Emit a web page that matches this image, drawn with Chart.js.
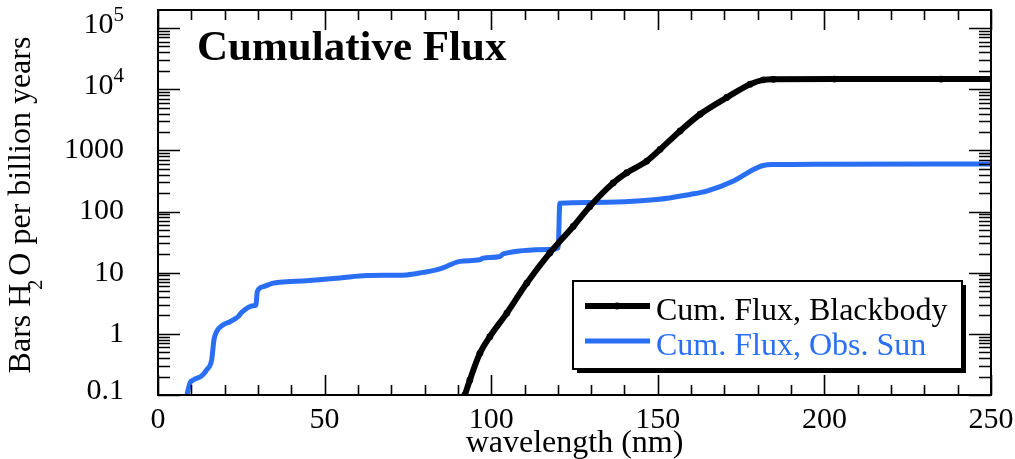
<!DOCTYPE html>
<html>
<head>
<meta charset="utf-8">
<title>Cumulative Flux</title>
<script src="https://cdn.jsdelivr.net/npm/chart.js@4.4.1/dist/chart.umd.min.js"></script>
<style>
  body { margin: 0; background: #fff; }
  canvas { display: block; }
</style>
</head>
<body>
<canvas id="fluxChart" width="1015" height="459"></canvas>
<script>
// blackbody cumulative flux (wavelength in nm, bars H2O per Gyr)
var bbWavelength = [91.5, 92.1, 93.6, 96.6, 99.6, 104.7, 110.7, 117.6, 124.6, 129.6, 136.6, 140.7,
    146.7, 150.7, 156.7, 162.7, 170.7, 177.7, 181.7, 184.7, 203, 235, 250];
var bbFlux = [0.08, 0.1, 0.176, 0.48, 0.9, 2.18, 6.76, 21, 57, 121, 293, 430,
    668, 1038, 2073, 3890, 7310, 12080, 14200, 14500, 14600, 14600, 14600];

// observed solar spectrum, cumulative
var sunWavelength = [8.7, 9.6, 10.6, 13.1, 14.6, 16.1, 16.8, 17.6, 19.5, 21.6, 24.1, 25.1, 28.6, 29.4,
    29.8, 31.6, 34.6, 36.6, 44.6, 54.6, 62.6, 74.6, 79.6, 84.6, 90.6, 96.6, 97.6, 102.6, 103.6,
    117.6, 120.1, 120.6, 129.6, 149.7, 159.7, 164.7, 172.7, 178.7, 181.7, 184.7, 200, 250];
var sunFlux = [0.1, 0.157, 0.176, 0.205, 0.257, 0.375, 0.8, 1.09, 1.4, 1.58, 1.92, 2.24, 2.87, 2.95,
    4.9, 5.9, 6.75, 7.0, 7.4, 8.2, 9.0, 9.2, 10.1, 11.5, 15.3, 16.3, 17.3, 18.4, 20.3,
    23.9, 25.4, 137, 140, 157, 190, 215, 314, 486, 566, 585, 595, 600];

var seriesLabels = ['Cum. Flux, Blackbody', 'Cum. Flux, Obs. Sun'];
var seriesColors = ['#000000', '#2a6ff3'];

var xTickValues = [0, 50, 100, 150, 200, 250];
var yTickValues = [0.1, 1, 10, 100, 1000, 1e4, 1e5];
var yTickLabels = ['0.1', '1', '10', '100', '1000', '10^4', '10^5'];

var chartTitle = 'Cumulative Flux';
var xTitle = 'wavelength (nm)';

function toPoints(xs, ys) {
    return xs.map(function (x, i) { return { x: x, y: ys[i] }; });
}

var SERIF = '"Liberation Serif", "Times New Roman", serif';

// boxed axes with inward ticks, labels, title and legend
var framePlugin = {
    id: 'frame',
    afterDraw: function (chart) {
        var ctx = chart.ctx;
        var a = chart.chartArea;
        var xs = chart.scales.x, ys = chart.scales.y;
        ctx.save();
        ctx.strokeStyle = '#000';
        ctx.fillStyle = '#000';

        // ticks on all four sides
        ctx.lineWidth = 1.6;
        ctx.beginPath();
        for (var v = xs.min; v <= xs.max; v += 10) {
            var px = Math.round(xs.getPixelForValue(v)) + 0.5;
            var len = (v % 50 === 0) ? 20 : 10;
            ctx.moveTo(px, a.bottom); ctx.lineTo(px, a.bottom - len);
            ctx.moveTo(px, a.top); ctx.lineTo(px, a.top + len);
        }
        for (var d = -1; d <= 5; d++) {
            for (var m = 1; m <= 9; m++) {
                var val = m * Math.pow(10, d);
                if (val > ys.max) break;
                var py = Math.round(ys.getPixelForValue(val)) + 0.5;
                var l2 = (m === 1) ? 22 : 12;
                ctx.moveTo(a.left, py); ctx.lineTo(a.left + l2, py);
                ctx.moveTo(a.right, py); ctx.lineTo(a.right - l2, py);
            }
        }
        ctx.stroke();

        ctx.lineWidth = 2;
        ctx.strokeRect(a.left, a.top, a.right - a.left, a.bottom - a.top);

        // x tick labels
        ctx.font = '30px ' + SERIF;
        ctx.textAlign = 'center';
        ctx.textBaseline = 'alphabetic';
        xTickValues.forEach(function (v) {
            ctx.fillText(String(v), xs.getPixelForValue(v), 428);
        });

        // y tick labels, "10^n" gets a superscript
        ctx.textAlign = 'right';
        ctx.textBaseline = 'middle';
        yTickValues.forEach(function (v, i) {
            var py = ys.getPixelForValue(v);
            var lab = yTickLabels[i];
            var right = 124;
            if (lab.indexOf('^') >= 0) {
                var parts = lab.split('^');
                ctx.font = '21px ' + SERIF;
                var supW = ctx.measureText(parts[1]).width;
                ctx.fillText(parts[1], right, py - 13);
                ctx.font = '30px ' + SERIF;
                ctx.fillText(parts[0], right - supW, py - 3);
            } else {
                ctx.font = '30px ' + SERIF;
                ctx.fillText(lab, right, Math.min(py, a.bottom - 4));
            }
        });

        // x axis title
        ctx.font = '32px ' + SERIF;
        ctx.textAlign = 'center';
        ctx.textBaseline = 'alphabetic';
        ctx.fillText(xTitle, (a.left + a.right) / 2, 452);

        // y axis title with subscript 2
        ctx.save();
        ctx.translate(30, 205);
        ctx.rotate(-Math.PI / 2);
        ctx.textAlign = 'left';
        ctx.font = '32px ' + SERIF;
        var p1 = 'Bars H ', p2 = 'O per billion years';
        var w1 = ctx.measureText(p1).width, w2 = ctx.measureText(p2).width;
        var x0 = -(w1 + w2) / 2;
        ctx.fillText(p1, x0, 0);
        ctx.fillText(p2, x0 + w1, 0);
        ctx.font = '20px ' + SERIF;
        ctx.fillText('2', x0 + w1 - 14, 12);
        ctx.restore();

        // chart title inside the plot
        ctx.font = 'bold 43px ' + SERIF;
        ctx.textAlign = 'left';
        ctx.fillText(chartTitle, 197, 60);

        // legend box with drop shadow
        var bx = 573, by = 281, bw = 389, bh = 88;
        ctx.fillStyle = '#000';
        ctx.fillRect(bx + 4, by + 4, bw, bh);
        ctx.fillStyle = '#fff';
        ctx.fillRect(bx, by, bw, bh);
        ctx.lineWidth = 2;
        ctx.strokeRect(bx, by, bw, bh);

        var rows = [306, 341];
        chart.data.datasets.forEach(function (ds, i) {
            var yy = rows[i];
            ctx.strokeStyle = ds.borderColor;
            ctx.lineWidth = ds.borderWidth;
            ctx.beginPath();
            ctx.moveTo(585, yy); ctx.lineTo(650, yy);
            ctx.stroke();
            if (ds.pointRadius > 0) {
                ctx.fillStyle = ds.borderColor;
                ctx.beginPath();
                ctx.arc(617, yy, ds.pointRadius, 0, Math.PI * 2);
                ctx.fill();
            }
            ctx.fillStyle = ds.borderColor;
            ctx.font = '32px ' + SERIF;
            ctx.textBaseline = 'alphabetic';
            ctx.fillText(ds.label, 656, yy + 14);
        });

        ctx.restore();
    }
};

new Chart(document.getElementById('fluxChart'), {
    type: 'line',
    data: {
        datasets: [{
            label: seriesLabels[0],
            data: toPoints(bbWavelength, bbFlux),
            borderColor: seriesColors[0],
            backgroundColor: seriesColors[0],
            borderWidth: 6,
            pointRadius: 3.4,
            pointBorderWidth: 0,
            cubicInterpolationMode: 'monotone'
        }, {
            label: seriesLabels[1],
            data: toPoints(sunWavelength, sunFlux),
            borderColor: seriesColors[1],
            backgroundColor: seriesColors[1],
            borderWidth: 5,
            pointRadius: 0,
            cubicInterpolationMode: 'monotone'
        }]
    },
    options: {
        responsive: false,
        animation: false,
        layout: { padding: { left: 158, top: 10, right: 24, bottom: 64 } },
        scales: {
            x: { type: 'linear', min: 0, max: 250, display: false },
            y: { type: 'logarithmic', min: 0.1, max: 1.97e5, display: false }
        },
        plugins: {
            legend: { display: false },
            tooltip: { enabled: false }
        }
    },
    plugins: [framePlugin]
});
</script>
</body>
</html>
